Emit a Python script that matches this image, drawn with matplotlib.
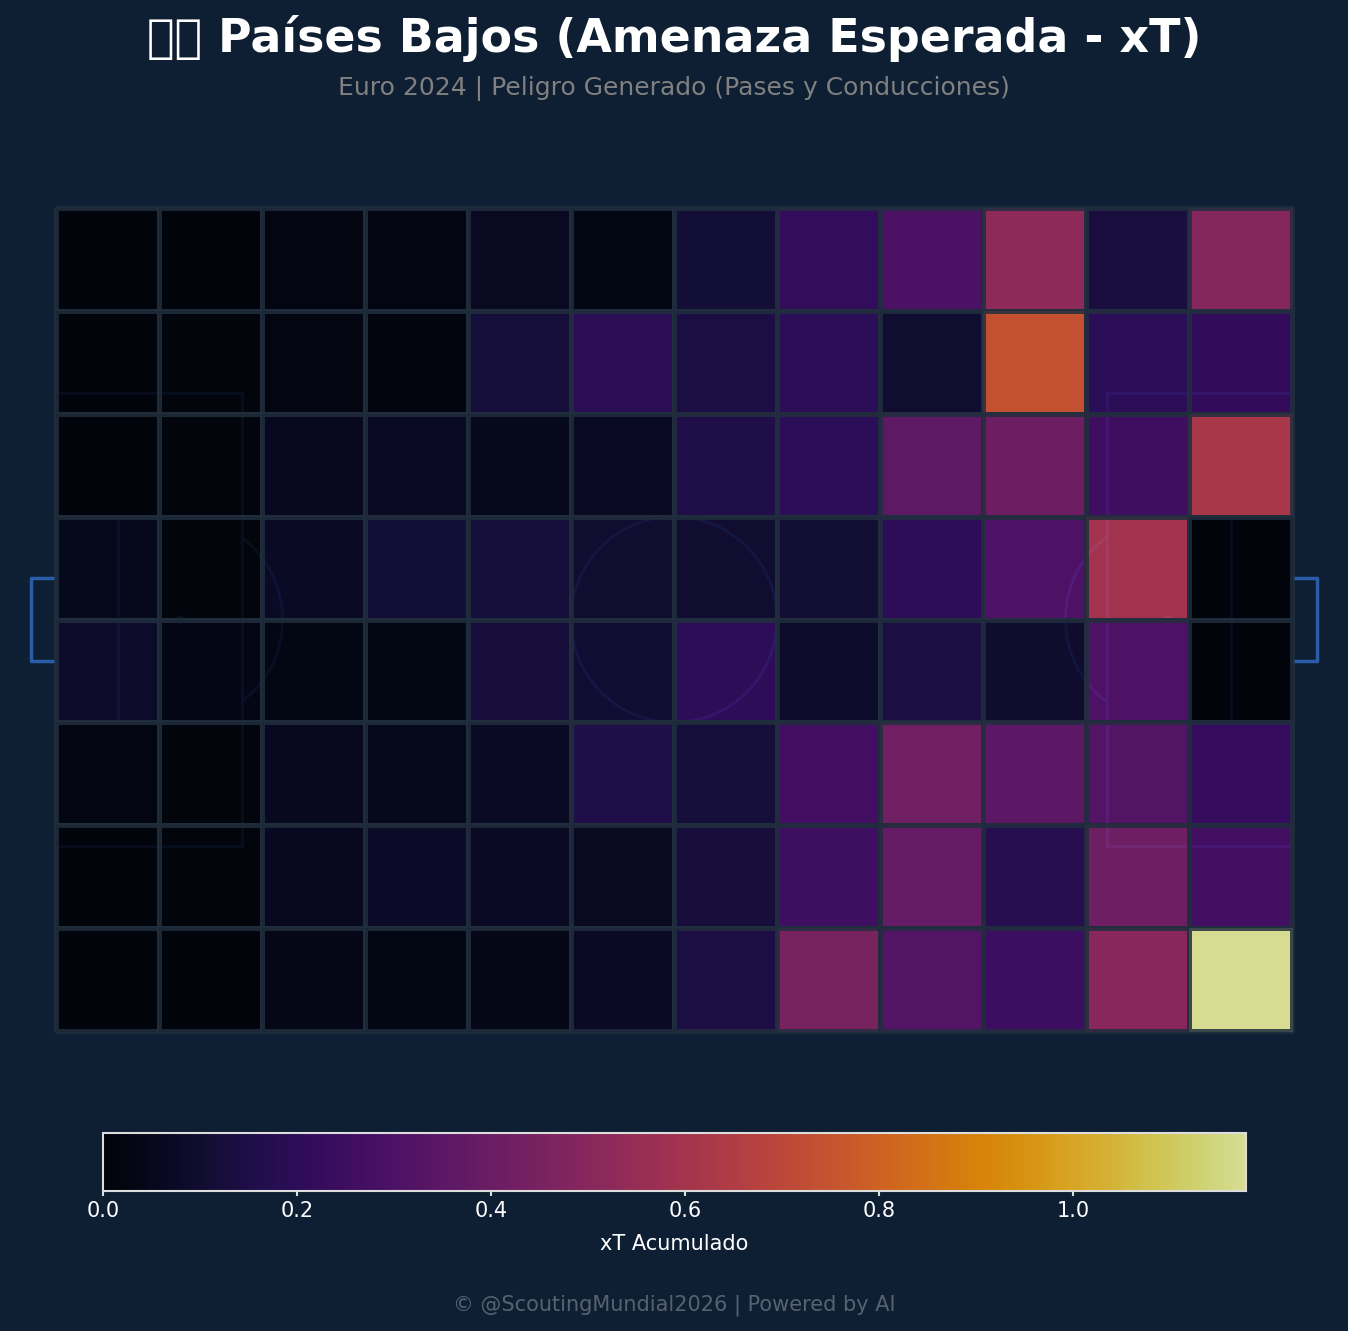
import numpy as np
import matplotlib
matplotlib.use('Agg')
import matplotlib.pyplot as plt
from matplotlib.patches import Rectangle, Circle, Arc

# xT acumulado por zona (filas de arriba a abajo, columnas de izquierda a derecha)
fila_0 = [0.000, 0.005, 0.020, 0.020, 0.065, 0.030, 0.115, 0.220, 0.290, 0.520, 0.130, 0.490]
fila_1 = [0.005, 0.010, 0.020, 0.015, 0.120, 0.190, 0.145, 0.195, 0.100, 0.740, 0.195, 0.215]
fila_2 = [0.005, 0.010, 0.060, 0.070, 0.050, 0.070, 0.155, 0.195, 0.360, 0.410, 0.255, 0.620]
fila_3 = [0.050, 0.010, 0.070, 0.115, 0.120, 0.100, 0.100, 0.110, 0.200, 0.300, 0.590, 0.000]
fila_4 = [0.085, 0.035, 0.030, 0.030, 0.125, 0.105, 0.200, 0.090, 0.140, 0.095, 0.300, 0.000]
fila_5 = [0.020, 0.010, 0.060, 0.050, 0.070, 0.155, 0.120, 0.265, 0.420, 0.350, 0.325, 0.225]
fila_6 = [0.005, 0.010, 0.060, 0.080, 0.070, 0.065, 0.125, 0.250, 0.385, 0.175, 0.415, 0.270]
fila_7 = [0.000, 0.005, 0.040, 0.030, 0.040, 0.070, 0.145, 0.450, 0.325, 0.245, 0.500, 1.178]

BG = '#0E1F33'
LINEA = '#2A5CAA'
W, H = 1348, 1331

xt = np.array([fila_0, fila_1, fila_2, fila_3, fila_4, fila_5, fila_6, fila_7])
x_bins = np.linspace(0, 120, 13)
y_bins = np.linspace(0, 80, 9)

fig = plt.figure(figsize=(W / 100, H / 100), dpi=100, facecolor=BG)

# campo statsbomb 120x80
ax = fig.add_axes([56 / W, 1 - 1031 / H, 1236 / W, 823 / H])
ax.set_facecolor(BG)
ax.set_xlim(0, 120)
ax.set_ylim(80, 0)
ax.axis('off')

lineas = dict(fill=False, edgecolor=LINEA, linewidth=2, zorder=1)
ax.add_patch(Rectangle((0, 0), 120, 80, **lineas))
ax.plot([60, 60], [0, 80], color=LINEA, lw=2, zorder=1)
ax.add_patch(Circle((60, 40), 10, **lineas))
for x0, ancho_area, ancho_chica in [(0, 18.1, 6), (120, -18, -5.9)]:
    ax.add_patch(Rectangle((x0, 18), ancho_area, 44, **lineas))
    ax.add_patch(Rectangle((x0, 30), ancho_chica, 20, **lineas))
ax.add_patch(Circle((12, 40), 0.35, color=LINEA, zorder=1))
ax.add_patch(Circle((108, 40), 0.35, color=LINEA, zorder=1))
ax.add_patch(Arc((12, 40), 20, 20, theta1=-53.13, theta2=53.13, color=LINEA, lw=2, zorder=1))
ax.add_patch(Arc((108, 40), 20, 20, theta1=126.87, theta2=233.13, color=LINEA, lw=2, zorder=1))

# porterias por fuera del campo
ax.plot([-0.2, -2.4, -2.4, -0.2], [36, 36, 44, 44], color=LINEA, lw=2.5, clip_on=False, zorder=3,
        solid_capstyle='butt')
ax.plot([120.2, 122.4, 122.4, 120.2], [36, 36, 44, 44], color=LINEA, lw=2.5, clip_on=False, zorder=3,
        solid_capstyle='butt')

mesh = ax.pcolormesh(x_bins, y_bins, xt, cmap='inferno', vmin=0, vmax=xt.max(),
                     alpha=0.85, edgecolors='#202E3D', linewidth=2.2, zorder=2,
                     clip_on=False)

# barra de color
cax = fig.add_axes([103 / W, 1 - 1191 / H, 1143 / W, 58 / H])
cax.set_facecolor(BG)
cbar = fig.colorbar(mesh, cax=cax, orientation='horizontal')
cbar.set_label('xT Acumulado', color='white', fontsize=15, labelpad=9.5)
cbar.ax.tick_params(colors='white', labelsize=15, width=1.5, color='#DDDDDD')
cbar.outline.set_edgecolor('#DDDDDD')
cbar.outline.set_linewidth(1.5)

fig.text(0.5, 1 - 38 / H, '🇳🇱 Países Bajos (Amenaza Esperada - xT)', color='white',
         fontsize=33, fontweight='bold', ha='center', va='center')
fig.text(0.5, 1 - 88.5 / H, 'Euro 2024 | Peligro Generado (Pases y Conducciones)', color='gray',
         fontsize=18, ha='center', va='center')
fig.text(0.5, 1 - 1305 / H, '© @ScoutingMundial2026 | Powered by AI', color='white', alpha=0.3,
         fontsize=15, ha='center', va='center')

fig.savefig('out.png', dpi=100, facecolor=BG)
